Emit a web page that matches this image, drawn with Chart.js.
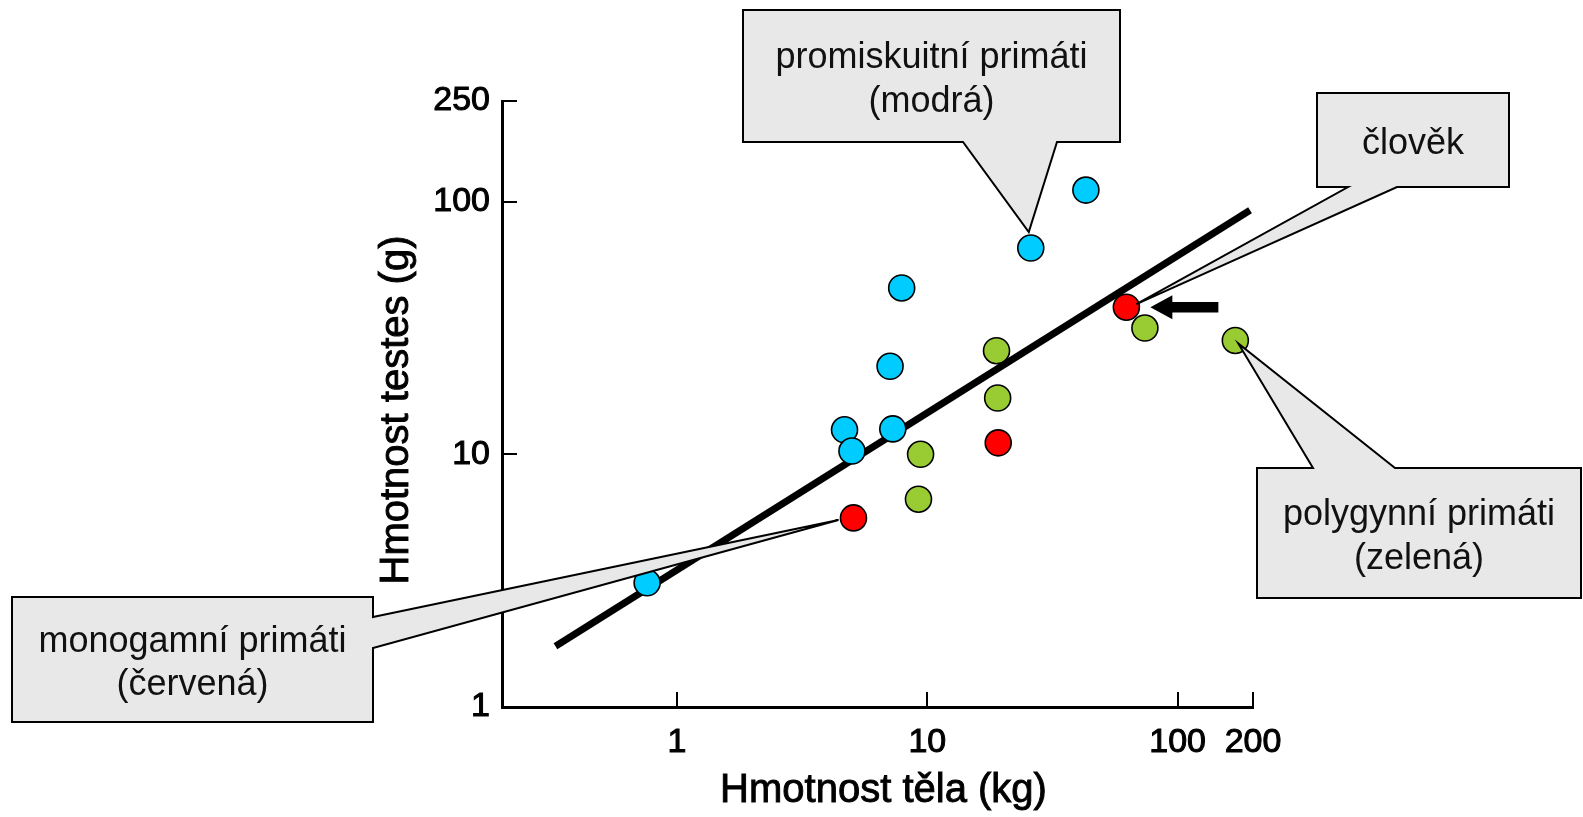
<!DOCTYPE html>
<html lang="cs">
<head>
<meta charset="utf-8">
<title>Hmotnost testes a hmotnost těla u primátů</title>
<script src="https://cdn.jsdelivr.net/npm/chart.js@4.4.1/dist/chart.umd.min.js"></script>
<style>
    html, body { margin: 0; padding: 0; background: #fff; }
    #graf { display: block; }
</style>
</head>
<body>
<canvas id="graf" width="1583" height="817"></canvas>
<script>
/*
    Graf: hmotnost testes vs hmotnost tela (log-log)
*/

//*************  Data (odhad z obrazku)  ****************/
// x = hmotnost tela (kg), y = hmotnost testes (g)
const promiskuitni_x = [43, 25.9, 7.9, 7.1, 4.67, 7.28, 5.0, 0.76]
const promiskuitni_y = [111, 65.5, 45.5, 22.3, 12.5, 12.6, 10.3, 3.1]

const polygynni_x = [18.9, 19.1, 9.4, 9.22, 74, 170]
const polygynni_y = [25.7, 16.7, 10.0, 6.64, 31.6, 28.2]

const monogamni_x = [62.4, 19.2, 5.07]   // prvni = clovek
const monogamni_y = [38.2, 11.1, 5.6]

// regresni primka (koncove body)
const primka_x = [0.327, 194.6]
const primka_y = [1.74, 92.4]

const ticky_x = [1, 10, 100, 200]
const ticky_y = [1, 10, 100, 250]

const nazev_x = "Hmotnost těla (kg)"
const nazev_y = "Hmotnost testes (g)"

function body(xs, ys){
    let pole = []
    for(let i = 0; i < xs.length; i++){
        pole.push({x: xs[i], y: ys[i]})
    }
    return pole
}

const PISMO = "'Liberation Sans', Arial, sans-serif"
Chart.defaults.font.family = PISMO
Chart.defaults.color = "#000"

//*************  Bubliny s popisky  ****************/
// box = [levo, nahore, pravo, dole], zaklad = kde spicka vychazi z boxu
const bubliny = [
    {radky: ["promiskuitní primáti", "(modrá)"], box: [743, 10, 1120, 142], strana: "dole", zaklad: [963, 1057], dataset: 1, index: 1, posun: [-2, -16]},
    {radky: ["člověk"], box: [1317, 93, 1509, 187], strana: "dole", zaklad: [1348, 1397], dataset: 0, index: 0, posun: [10, -3]},
    {radky: ["polygynní primáti", "(zelená)"], box: [1257, 468, 1581, 598], strana: "nahore", zaklad: [1313, 1395], dataset: 2, index: 5, posun: [3, 3]},
    {radky: ["monogamní primáti", "(červená)"], box: [12, 597, 373, 722], strana: "vpravo", zaklad: [617, 648], dataset: 0, index: 2, posun: [-15, 2]}
]

const popisky = {
    id: "popisky",
    afterDatasetsDraw(chart){
        const ctx = chart.ctx
        ctx.save()

        // sipka na cloveka
        let clovek = chart.getDatasetMeta(0).data[0]
        let cx = clovek.x, cy = clovek.y
        ctx.fillStyle = "#000"
        ctx.beginPath()
        ctx.moveTo(cx + 24, cy)
        ctx.lineTo(cx + 46, cy - 12)
        ctx.lineTo(cx + 46, cy - 5.3)
        ctx.lineTo(cx + 92, cy - 5.3)
        ctx.lineTo(cx + 92, cy + 5.3)
        ctx.lineTo(cx + 46, cy + 5.3)
        ctx.lineTo(cx + 46, cy + 12)
        ctx.closePath()
        ctx.fill()

        for(let b of bubliny){
            let bod = chart.getDatasetMeta(b.dataset).data[b.index]
            let tx = bod.x + b.posun[0]
            let ty = bod.y + b.posun[1]
            let [l, t, r, d] = b.box

            ctx.beginPath()
            if(b.strana == "dole"){
                ctx.moveTo(l, t); ctx.lineTo(r, t); ctx.lineTo(r, d)
                ctx.lineTo(b.zaklad[1], d); ctx.lineTo(tx, ty); ctx.lineTo(b.zaklad[0], d)
                ctx.lineTo(l, d)
            } else if(b.strana == "nahore"){
                ctx.moveTo(l, t); ctx.lineTo(b.zaklad[0], t); ctx.lineTo(tx, ty); ctx.lineTo(b.zaklad[1], t)
                ctx.lineTo(r, t); ctx.lineTo(r, d); ctx.lineTo(l, d)
            } else {
                ctx.moveTo(l, t); ctx.lineTo(r, t); ctx.lineTo(r, b.zaklad[0])
                ctx.lineTo(tx, ty); ctx.lineTo(r, b.zaklad[1])
                ctx.lineTo(r, d); ctx.lineTo(l, d)
            }
            ctx.closePath()
            ctx.fillStyle = "#e8e8e8"
            ctx.fill()
            ctx.strokeStyle = "#000"
            ctx.lineWidth = 2
            ctx.lineJoin = "miter"
            ctx.stroke()

            // text
            ctx.fillStyle = "#111"
            ctx.font = "36px " + PISMO
            ctx.textAlign = "center"
            ctx.textBaseline = "alphabetic"
            let stred = (t + d) / 2
            let sx = (l + r) / 2
            if(b.radky.length == 1){
                ctx.fillText(b.radky[0], sx, stred + 14)
            } else {
                ctx.fillText(b.radky[0], sx, stred - 7.7)
                ctx.fillText(b.radky[1], sx, stred + 35.7)
            }
        }
        ctx.restore()
    }
}

// ticky smeruji dovnitr grafu + nazvy os (trochu tucnejsi pismo)
const osy = {
    id: "osy",
    afterDraw(chart){
        const ctx = chart.ctx
        const area = chart.chartArea
        const sx = chart.scales.x
        const sy = chart.scales.y
        ctx.save()
        ctx.strokeStyle = "#000"
        ctx.lineWidth = 2
        for(let t of sx.ticks){
            let px = Math.round(sx.getPixelForValue(t.value))
            ctx.beginPath()
            ctx.moveTo(px, area.bottom)
            ctx.lineTo(px, area.bottom - 15)
            ctx.stroke()
        }
        for(let t of sy.ticks){
            if(t.value == 1) continue
            let py = Math.round(sy.getPixelForValue(t.value))
            ctx.beginPath()
            ctx.moveTo(area.left, py)
            ctx.lineTo(area.left + 15, py)
            ctx.stroke()
        }

        ctx.font = "40px " + PISMO
        ctx.fillStyle = "#000"
        ctx.lineWidth = 0.9
        ctx.textAlign = "center"
        ctx.textBaseline = "middle"
        let xx = (area.left + area.right) / 2 + 6
        ctx.fillText(nazev_x, xx, 791)
        ctx.strokeText(nazev_x, xx, 791)

        ctx.translate(sy.left + 24, 410)
        ctx.rotate(-Math.PI / 2)
        ctx.fillText(nazev_y, 0, 0)
        ctx.strokeText(nazev_y, 0, 0)
        ctx.restore()
    }
}

function styl_bodu(barva){
    return {
        backgroundColor: barva,
        borderColor: "#000",
        borderWidth: 1.6,
        pointRadius: 13,
        pointHoverRadius: 13
    }
}

const GP = document.getElementById("graf")

new Chart(GP, {
    type: "scatter",
    data: {
        datasets: [
            Object.assign({label: "monogamní primáti", data: body(monogamni_x, monogamni_y)}, styl_bodu("#ff0000")),
            Object.assign({label: "promiskuitní primáti", data: body(promiskuitni_x, promiskuitni_y)}, styl_bodu("#00ccff")),
            Object.assign({label: "polygynní primáti", data: body(polygynni_x, polygynni_y)}, styl_bodu("#99cc33")),
            {
                label: "regrese",
                data: body(primka_x, primka_y),
                showLine: true,
                borderColor: "#000",
                borderWidth: 7,
                borderCapStyle: "butt",
                pointRadius: 0,
                pointHoverRadius: 0
            }
        ]
    },
    options: {
        responsive: false,
        animation: false,
        devicePixelRatio: 1,
        layout: {
            padding: {left: 373, right: 330, top: 101, bottom: 0}
        },
        plugins: {
            legend: {display: false},
            tooltip: {enabled: false}
        },
        scales: {
            x: {
                type: "logarithmic",
                min: 0.2,
                max: 200,
                afterBuildTicks: s => { s.ticks = ticky_x.map(v => ({value: v})) },
                afterFit: s => { s.height = 110 },
                grid: {display: false, drawTicks: false},
                border: {display: true, color: "#000", width: 3},
                ticks: {
                    autoSkip: false,
                    maxRotation: 0,
                    padding: 15,
                    font: {size: 34},
                    textStrokeColor: "#000",
                    textStrokeWidth: 1,
                    callback: v => String(v)
                }
            },
            y: {
                type: "logarithmic",
                min: 1,
                max: 250,
                afterBuildTicks: s => { s.ticks = ticky_y.map(v => ({value: v})) },
                afterFit: s => { s.width = 129 },
                grid: {display: false, drawTicks: false},
                border: {display: true, color: "#000", width: 3},
                ticks: {
                    autoSkip: false,
                    padding: 12,
                    font: {size: 34},
                    textStrokeColor: "#000",
                    textStrokeWidth: 1,
                    callback: v => String(v)
                }
            }
        }
    },
    plugins: [popisky, osy]
})
</script>
</body>
</html>
